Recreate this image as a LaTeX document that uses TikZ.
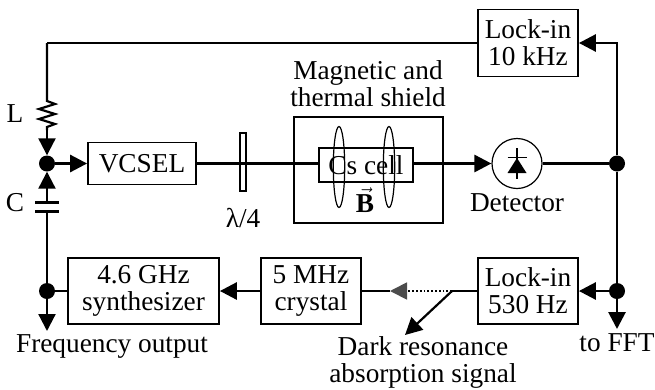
\documentclass[tikz,border=0pt]{standalone}
\usepackage{fontspec}
\setmainfont{Liberation Serif}
\usetikzlibrary{arrows.meta,positioning,calc}
\tikzset{
  blockbox/.style={draw,line width=1.8pt,inner sep=0pt,align=center},
  thinbox/.style={draw,line width=1.2pt,inner sep=0pt},
  junction/.style={circle,fill=black,inner sep=0pt,minimum size=16pt},
  sigline/.style={line width=2.8pt},
  wireline/.style={line width=2.2pt},
  bigtip/.style={-{Triangle[length=17pt,width=17pt]}},
  plain/.style={inner sep=0pt,align=center}
}
\begin{document}
\begin{tikzpicture}[x=1pt,y=-1pt,font=\fontsize{27.3}{27}\selectfont]
\useasboundingbox (0,0) rectangle (655,389);
% ===================== blocks =====================
\node[blockbox,minimum width=100pt,minimum height=67pt] (lockten) at (528,43) {Lock-in\\10 kHz};
\node[blockbox,minimum width=108pt,minimum height=42pt] (vcsel) at (142,163.5) {VCSEL};
\node[blockbox,minimum width=149pt,minimum height=106pt] (shield) at (368.5,170) {};
\node[thinbox,minimum width=94pt,minimum height=34pt] (cell) at (366,165) {Cs cell};
\node[thinbox,minimum width=6pt,minimum height=58pt] (plate) at (243,162) {};
\node[blockbox,minimum width=151pt,minimum height=66pt] (synth) at (143.5,291) {4.6 GHz\\synthesizer};
\node[blockbox,minimum width=100pt,minimum height=66pt] (crystal) at (311,291) {5 MHz\\crystal};
\node[blockbox,minimum width=100pt,minimum height=66pt] (lockfive) at (528,291) {Lock-in\\530 Hz};
\node[thinbox,circle,minimum size=50pt] (detector) at (517,163.5) {};
% ===================== junctions =====================
\node[junction] (jtune) at (47,163.5) {};
\node[junction] (jsynth) at (47,291) {};
\node[junction] (jdet) at (617,163.5) {};
\node[junction] (jlock) at (617,291) {};
\coordinate (ctop) at (47,43);
\coordinate (ctr) at (617,43);
\coordinate (rtop) at (47,98);
\coordinate (rbot) at (47,130);
\coordinate (cplateup) at (47,202);
\coordinate (cplatedn) at (47,211);
\coordinate (freqend) at (47,331);
\coordinate (fftend) at (617,329);
\coordinate (graytip) at (390,291);
\coordinate (tap) at (452,291);
\coordinate (darkend) at (405,335);
% ===================== coils =====================
\draw[line width=1.2pt] (339,167) ellipse (5.7 and 40.5);
\draw[line width=1.2pt] (389,167) ellipse (5.7 and 40.5);
\node[plain] (bfield) at (365,200) {$\vec{\mathbf{B}}$};
% ===================== diode =====================
\coordinate (dtop) at (517,148);
\coordinate (dbot) at (517,179);
\draw[line width=1.4pt] (dtop) -- (dbot);
\draw[line width=1.6pt] (507.5,157.5) -- (526.5,157.5);
\fill (517,158) -- (526.5,173) -- (507.5,173) -- cycle;
% ===================== left loop =====================
\draw[sigline] (lockten.west) -- (ctop);
\draw[wireline] (ctop) -- (rtop) -- ++(0,3) -- ++(8,3) -- ++(-16,5) -- ++(16,5) -- ++(-16,5) -- ++(16,5) -- ++(-8,3) -- (rbot);
\draw[wireline,bigtip] (rbot) -- (jtune.north);
\draw[wireline,bigtip] (cplateup) -- (jtune.south);
\draw[line width=3pt] (35,202) -- (59,202);
\draw[line width=3pt] (35,211) -- (59,211);
\draw[wireline] (cplatedn) -- (jsynth);
\draw[wireline,bigtip] (jsynth) -- (freqend);
\draw[sigline] (jsynth) -- (synth.west);
\draw[sigline,bigtip] (jtune) -- (vcsel.west);
% ===================== optical path =====================
\draw[sigline] (vcsel.east) -- (vcsel.east -| cell.west);
\draw[sigline,bigtip] (vcsel.east -| cell.east) -- (detector.west);
\draw[sigline] (detector.east) -- (jdet);
% ===================== right side =====================
\draw[sigline,bigtip] (jdet) -- (ctr) -- (lockten.east);
\draw[sigline] (jdet) -- (jlock);
\draw[sigline,bigtip] (jlock) -- (fftend);
\draw[sigline,bigtip] (jlock) -- (lockfive.east);
% ===================== bottom path =====================
\draw[sigline] (lockfive.west) -- (tap);
\draw[line width=1.8pt,dotted,-{Triangle[length=17pt,width=17pt,color=black!70]}] (tap) -- (graytip);
\draw[sigline] (graytip) -- (crystal.east);
\draw[sigline,bigtip] (crystal.west) -- (synth.east);
\draw[wireline,bigtip] (tap) -- (darkend);
% ===================== labels =====================
\node[plain] (lbltitle) at (368,84) {Magnetic and\\thermal shield};
\node[plain] (lblL) at (15,114) {L};
\node[plain] (lblC) at (15,203) {C};
\node[plain] (lblplate) at (243,218) {λ/4};
\node[plain] (lbldet) at (517,203) {Detector};
\node[plain] (lblfreq) at (112,346) {Frequency output};
\node[plain] (lbldark) at (423,362) {Dark resonance\\absorption signal};
\node[plain] (lblfft) at (617,343) {to FFT};
\end{tikzpicture}
\end{document}
